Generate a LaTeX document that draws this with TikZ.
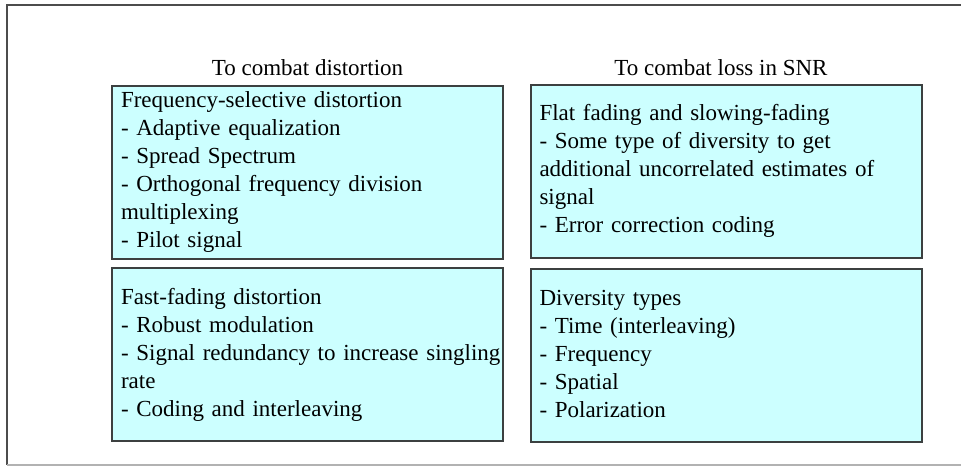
\documentclass[tikz,border=0pt]{standalone}
\usepackage{fontspec}
\setmainfont{Liberation Serif}
\definecolor{boxfill}{RGB}{204,255,255}
\definecolor{boxline}{RGB}{60,64,64}

% lines of one box, kept from wrapping
\newcommand{\remlines}[1]{\begin{tabular}{@{}l@{}}#1\end{tabular}}

\tikzset{
  remedy/.style={draw=boxline,line width=1pt,fill=boxfill,
    text width=186.5pt,inner xsep=4.5pt,inner ysep=0pt,
    minimum height=86.5pt,align=left,
    font=\fontsize{11.5}{14}\selectfont},
  heading/.style={font=\fontsize{11.5}{14}\selectfont}
}

\begin{document}
\begin{tikzpicture}[x=0.5pt,y=-0.5pt]
  \useasboundingbox (0,0) rectangle (961,466);
  % frame
  \draw[gray!60!black,line width=1pt] (961,5)--(7,5)--(7,465);
  \draw[gray!60,line width=1pt] (7,465)--(961,465);

  \node[heading] (distHead) at (307.5,68) {To combat distortion};
  \node[heading] (snrHead) at (721,68) {To combat loss in SNR};

  \node[remedy] (freqSel) at (307.5,172) {\remlines{Frequency-selective distortion\\
    - Adaptive equalization\\
    - Spread Spectrum\\
    - Orthogonal frequency division\\
    multiplexing\\
    - Pilot signal}};
  \node[remedy] (flatFade) at (726,171) {\remlines{Flat fading and slowing-fading\\
    - Some type of diversity to get\\
    additional uncorrelated estimates of\\
    signal\\
    - Error correction coding}};
  \node[remedy] (fastFade) at (307.5,354.5) {\remlines{Fast-fading distortion\\
    - Robust modulation\\
    - Signal redundancy to increase singling\\
    rate\\
    - Coding and interleaving}};
  \node[remedy] (divTypes) at (726,355.5) {\remlines{Diversity types\\
    - Time (interleaving)\\
    - Frequency\\
    - Spatial\\
    - Polarization}};
\end{tikzpicture}
\end{document}
